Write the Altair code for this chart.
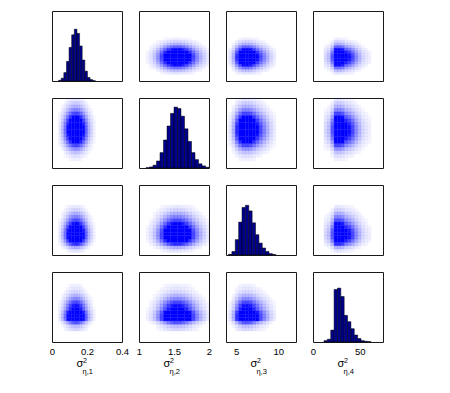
import altair as alt
import pandas as pd

# ---- data ----
dom_lo = [0.0, 1.0, 3.8, 0.0]
dom_hi = [0.4, 2.0, 12.1, 75.0]
tick_vals = [[0, 0.2, 0.4], [1, 1.5, 2], [5, 10], [0, 50]]
subscripts = ["η,1", "η,2", "η,3", "η,4"]

bin_start = [0.0375, 1.1, 4.1, 11.8]
bin_width = [0.015, 0.05, 0.4, 3.6]
h1 = [0.01, 0.04, 0.12, 0.28, 0.48, 0.66, 0.74, 0.68, 0.50, 0.30, 0.14, 0.05, 0.02, 0.005]
h2 = [0.005, 0.015, 0.04, 0.10, 0.22, 0.40, 0.60, 0.78, 0.87, 0.85, 0.74, 0.56, 0.38,
      0.22, 0.12, 0.06, 0.03, 0.01]
h3 = [0.01, 0.05, 0.22, 0.47, 0.68, 0.71, 0.63, 0.46, 0.29, 0.17, 0.10, 0.05, 0.02, 0.008]
h4 = [0.02, 0.04, 0.17, 0.75, 0.77, 0.65, 0.38, 0.29, 0.19, 0.10, 0.05, 0.02, 0.01, 0.005]
heights = [h1, h2, h3, h4]

W, H = 70, 70


def hist_df(k):
    rows = []
    for i, h in enumerate(heights[k]):
        a = bin_start[k] + i * bin_width[k]
        rows.append({"x": a, "x2": a + bin_width[k], "y": 0.0, "y2": h})
    return pd.DataFrame(rows)


def cloud_df(r, c):
    rows = []
    mc, mr = max(heights[c]), max(heights[r])
    for i, hc in enumerate(heights[c]):
        xa = bin_start[c] + i * bin_width[c]
        for j, hr in enumerate(heights[r]):
            ya = bin_start[r] + j * bin_width[r]
            p = (hc / mc) * (hr / mr)
            op = min(1.0, 1.9 * p ** 0.7)
            if op < 0.03:
                continue
            rows.append({"x": xa, "x2": xa + bin_width[c], "y": ya, "y2": ya + bin_width[r], "op": op})
    return pd.DataFrame(rows)


def panel(r, c):
    if r == 3:
        xaxis = alt.Axis(values=tick_vals[c], labelExpr="'' + datum.value", labelFlush=False,
                         domain=False, ticks=False, grid=False, labelPadding=4, labelFontSize=9.5,
                         labelFont="Liberation Sans", labelColor="#000", title=None)
    else:
        xaxis = None
    xs = alt.Scale(domain=[dom_lo[c], dom_hi[c]], nice=False, zero=False)
    if r == c:
        ys = alt.Scale(domain=[0, 1], nice=False, zero=False)
        base = alt.Chart(hist_df(c)).mark_rect(color="#00008C", stroke="#000", strokeWidth=0.5).encode(
            x=alt.X("x:Q", scale=xs, axis=xaxis), x2="x2:Q",
            y=alt.Y("y:Q", scale=ys, axis=None), y2="y2:Q")
    else:
        ys = alt.Scale(domain=[dom_lo[r], dom_hi[r]], nice=False, zero=False)
        base = alt.Chart(cloud_df(r, c)).mark_rect(color="#0000FF", stroke="#0000FF",
                                                   strokeWidth=0.3).encode(
            x=alt.X("x:Q", scale=xs, axis=xaxis), x2="x2:Q",
            y=alt.Y("y:Q", scale=ys, axis=None), y2="y2:Q",
            opacity=alt.Opacity("op:Q", scale=None, legend=None))
    if r == 3:
        lab = pd.DataFrame({"s": ["σ"], "p": ["2"], "b": [subscripts[c]]})
        sig = alt.Chart(lab).mark_text(font="Liberation Sans", fontSize=11, align="center",
                                       baseline="alphabetic", color="#000").encode(
            text="s:N", x=alt.value(28), y=alt.value(95))
        sup = alt.Chart(lab).mark_text(font="Liberation Sans", fontSize=7, align="left",
                                       baseline="alphabetic", color="#000").encode(
            text="p:N", x=alt.value(31), y=alt.value(91))
        sub = alt.Chart(lab).mark_text(font="Liberation Sans", fontSize=7.5, align="left",
                                       baseline="alphabetic", color="#000").encode(
            text="b:N", x=alt.value(30.5), y=alt.value(101.5))
        return alt.layer(base, sig, sup, sub).properties(width=W, height=H)
    return base.properties(width=W, height=H)


panels = [panel(r, c) for r in range(4) for c in range(4)]

chart = alt.concat(*panels, columns=4, spacing=17, bounds="flush").properties(
    padding={"left": 40, "top": 2, "right": 5, "bottom": 5},
    background="white"
).configure_view(stroke="#1a1a1a", strokeWidth=1)

chart.save("out.html", embed_options={"renderer": "svg", "actions": False})
